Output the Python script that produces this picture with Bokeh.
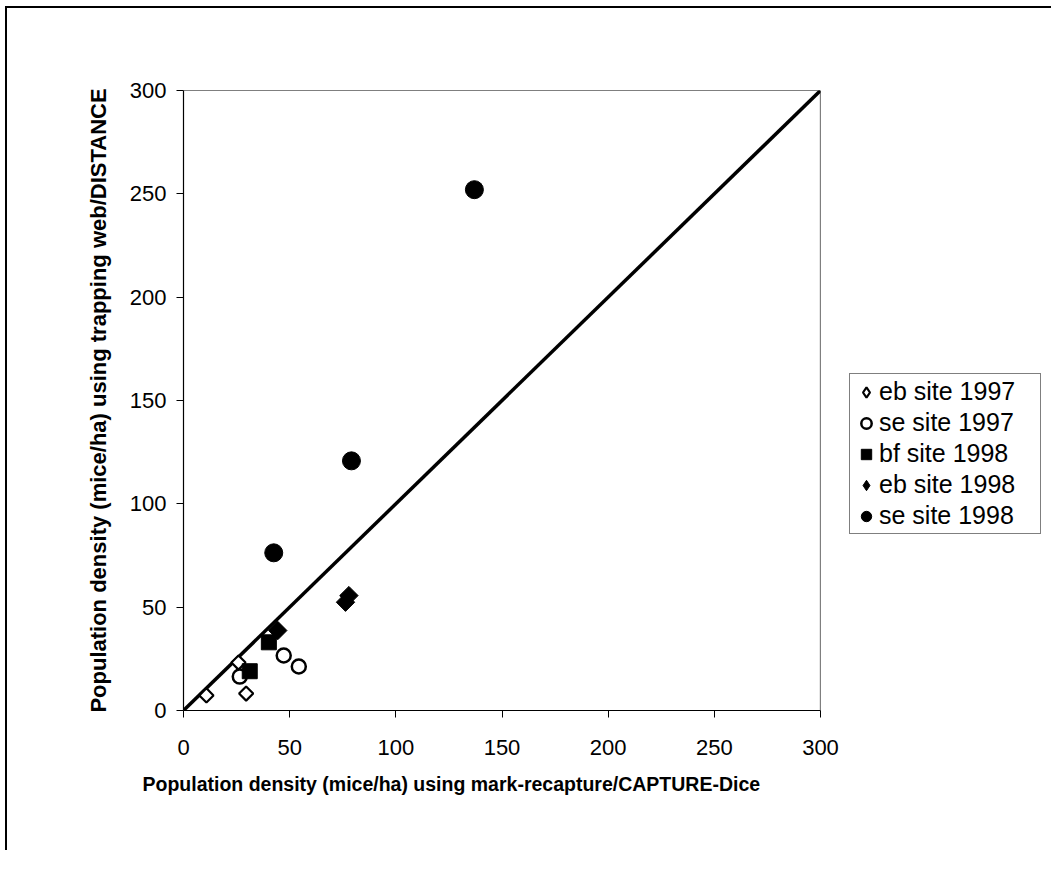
import math
from bokeh.plotting import figure
from bokeh.models import Legend, LegendItem, Range1d, FixedTicker, Title
from bokeh.embed import file_html
from bokeh.resources import INLINE

# Data
eb97_x = [10.8, 29.5, 25.9]
eb97_y = [7.3, 8.2, 23.2]
se97_x = [26.5, 47.2, 54.3]
se97_y = [16.4, 26.6, 21.3]
bf98_x = [31.2, 40.2]
bf98_y = [19.0, 33.0]
eb98_x = [44.4, 77.9, 76.3]
eb98_y = [38.7, 55.6, 52.4]
se98_x = [137.0, 79.1, 42.5]
se98_y = [252.0, 120.8, 76.3]
line_x = [0, 300]
line_y = [0, 300]
ticks = [0, 50, 100, 150, 200, 250, 300]
series_labels = ["eb site 1997", "se site 1997", "bf site 1998", "eb site 1998", "se site 1998"]
x_title = "Population density (mice/ha) using mark-recapture/CAPTURE-Dice"
y_title = "Population density (mice/ha) using trapping web/DISTANCE"

FONT = "Liberation Sans"
NAN = float("nan")

p = figure(frame_width=637, frame_height=620, output_backend="svg", toolbar_location=None,
           min_border_left=176, min_border_top=82, min_border_bottom=140, min_border_right=225,
           x_range=Range1d(0, 300), y_range=Range1d(0, 300))
p.margin = (6, 0, 0, 5)
p.styles = {"border-top": "2px solid black", "border-left": "2px solid black"}
p.background_fill_color = "white"
p.border_fill_color = "white"
p.outline_line_color = None
p.xgrid.visible = False
p.ygrid.visible = False

for ax in (p.xaxis[0], p.yaxis[0]):
    ax.ticker = FixedTicker(ticks=ticks)
    ax.axis_line_color = "black"
    ax.axis_line_width = 1.2
    ax.major_tick_line_color = "black"
    ax.major_tick_in = 0
    ax.major_tick_out = 7
    ax.minor_tick_line_color = None
    ax.major_label_text_font = FONT
    ax.major_label_text_font_size = "22px"
    ax.major_label_text_color = "black"
    ax.axis_label_text_font = FONT
    ax.axis_label_text_font_style = "bold"
    ax.axis_label_text_color = "black"

p.yaxis.axis_label = y_title
p.yaxis.axis_label_text_font_size = "22px"
p.xaxis.major_label_standoff = 22
p.yaxis.major_label_standoff = 10
p.yaxis.axis_label_standoff = 16

xt = Title(text=x_title, align="left", offset=-41, text_font=FONT, text_font_style="bold",
           text_font_size="19.5px", text_color="black", standoff=26)
p.add_layout(xt, "below")

# frame top and right lines
p.line(x=[0, 300, 300], y=[300, 300, 0], line_color="black", line_width=1.2)

# 1:1 line
p.line(x=line_x, y=line_y, line_color="black", line_width=3.5)

ang = math.pi / 4
r1 = p.scatter(eb97_x, eb97_y, marker="square", angle=ang, size=10, fill_color="white", line_color="black", line_width=2.2)
r2 = p.scatter(se97_x, se97_y, marker="circle", size=14, fill_color="white", line_color="black", line_width=2.5)
r3 = p.scatter(bf98_x, bf98_y, marker="square", size=15, fill_color="black", line_color="black")
r4 = p.scatter(eb98_x, eb98_y, marker="square", angle=ang, size=13, fill_color="black", line_color="black")
r5 = p.scatter(se98_x, se98_y, marker="circle", size=18, fill_color="black", line_color="black")

# legend-only glyphs (not drawn in the plot) so diamonds show as diamonds in the legend
l1 = p.scatter([NAN], [NAN], marker="diamond", size=10, fill_color="white", line_color="black", line_width=2.2)
l4 = p.scatter([NAN], [NAN], marker="diamond", size=13, fill_color="black", line_color="black")

legend = Legend(items=[
    LegendItem(label=series_labels[0], renderers=[l1]),
    LegendItem(label=series_labels[1], renderers=[r2]),
    LegendItem(label=series_labels[2], renderers=[r3]),
    LegendItem(label=series_labels[3], renderers=[l4]),
    LegendItem(label=series_labels[4], renderers=[r5]),
], location=(29, 176))
legend.label_text_font = FONT
legend.label_text_font_size = "25px"
legend.label_text_color = "black"
legend.border_line_color = "black"
legend.border_line_width = 1
legend.background_fill_color = "white"
legend.glyph_width = 26
legend.glyph_height = 28
legend.spacing = 2
legend.padding = 3
legend.margin = 0
legend.label_standoff = 0
legend.label_height = 28
legend.label_width = 158
p.add_layout(legend, "right")

open("out.html", "w").write(file_html(p, INLINE))
